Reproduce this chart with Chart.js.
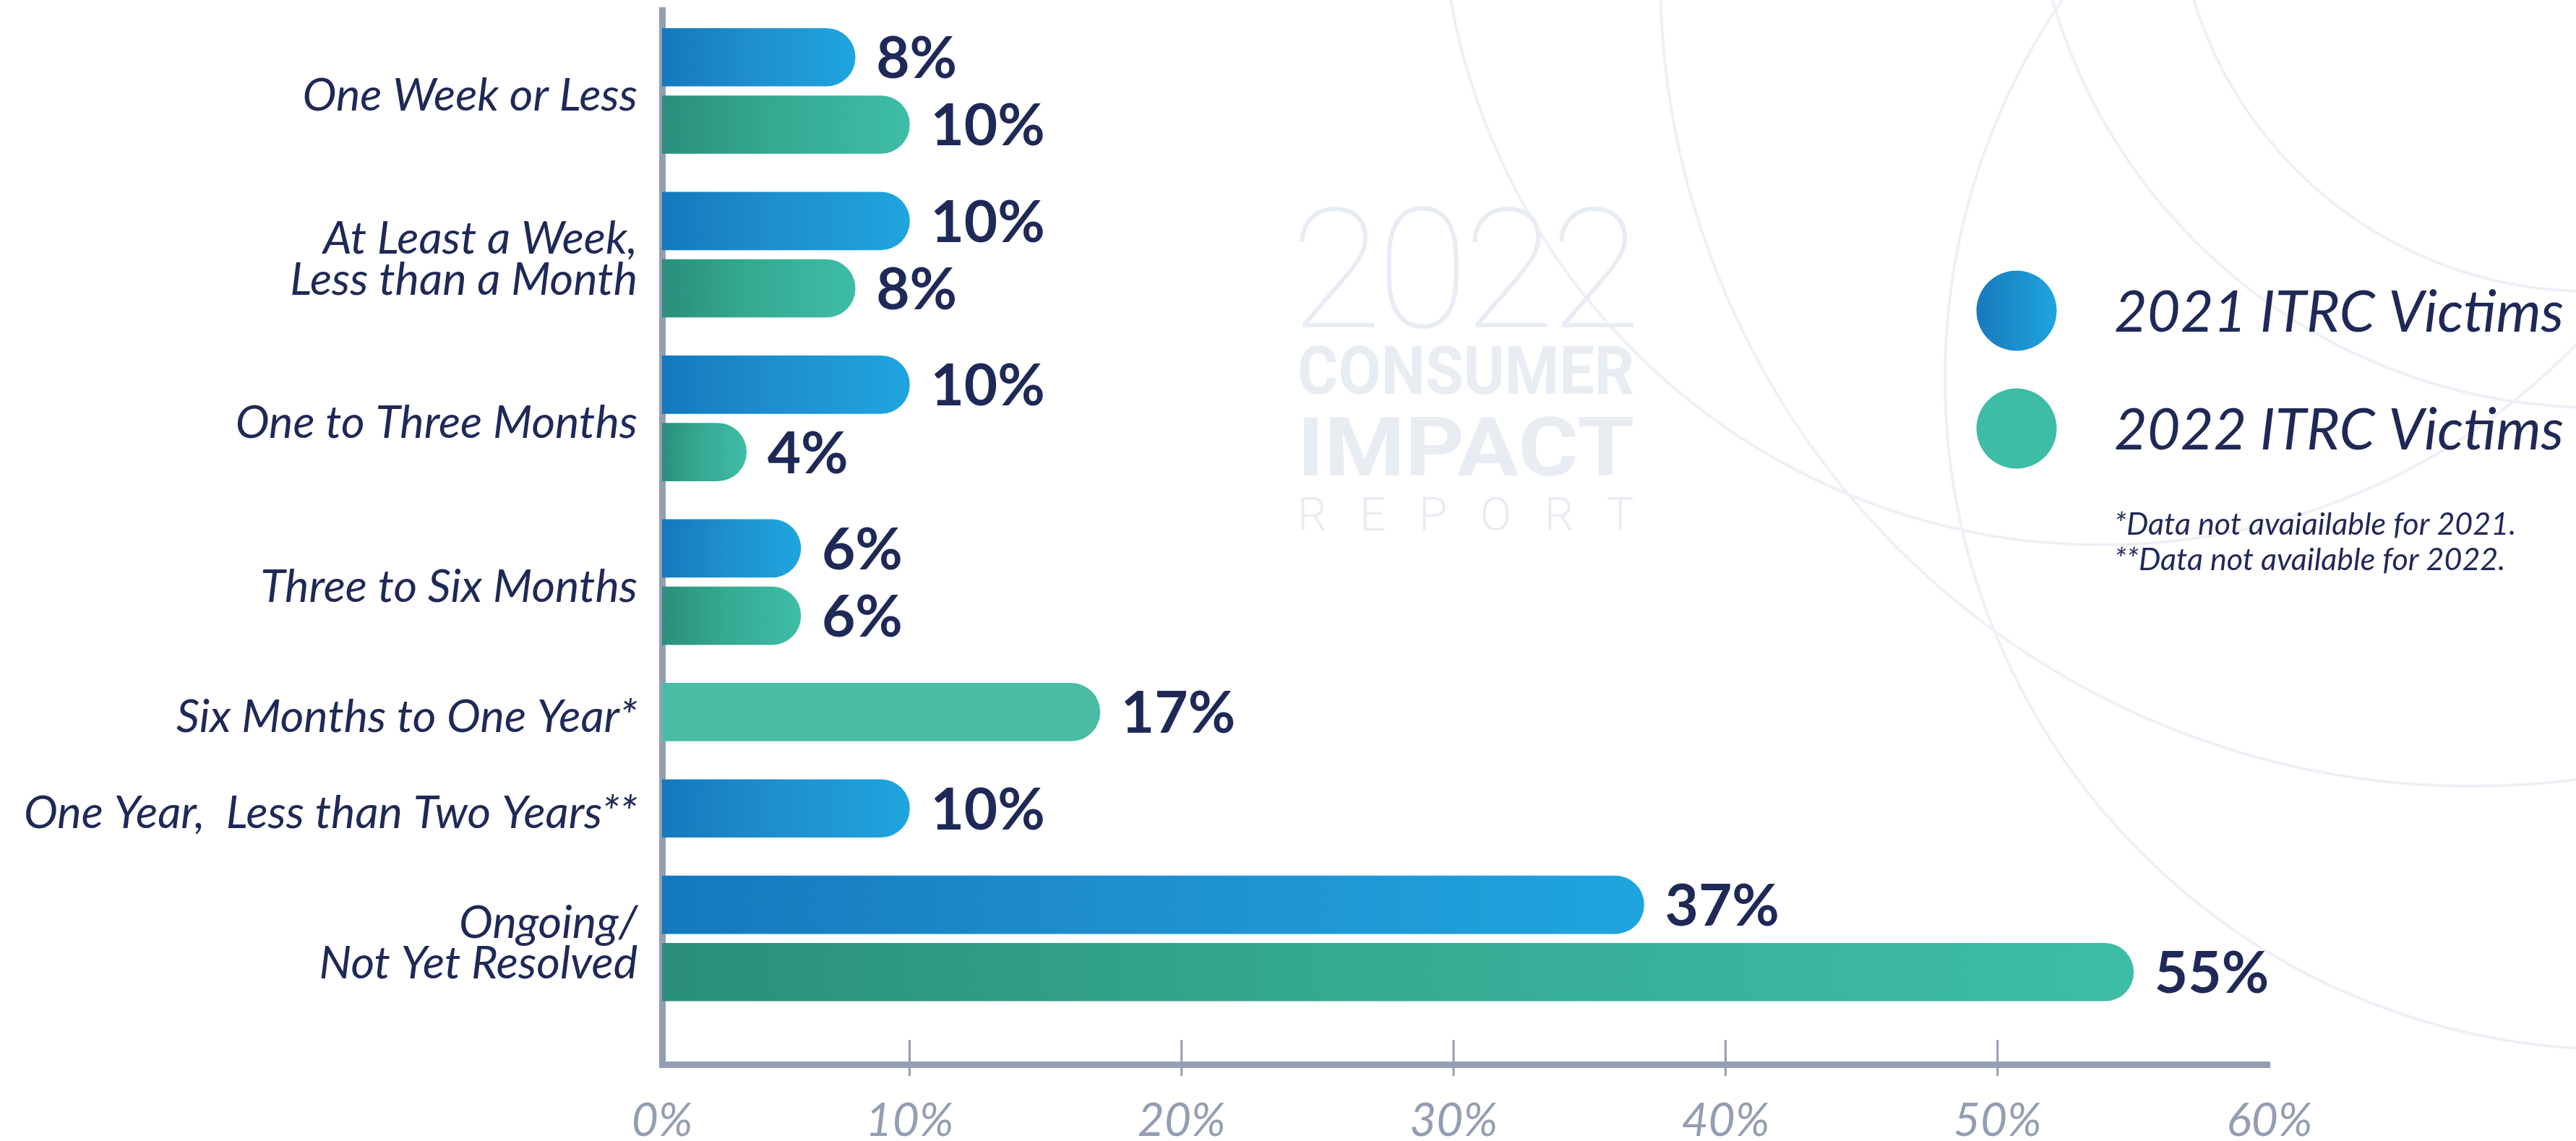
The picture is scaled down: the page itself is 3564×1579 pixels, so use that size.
<!DOCTYPE html>
<html>
<head>
<meta charset="utf-8">
<script src="https://cdn.jsdelivr.net/npm/chart.js@4.4.1/dist/chart.umd.min.js"></script>
<style>
  html, body { margin: 0; padding: 0; background: #fff; }
  #wrap { width: 3564px; height: 1579px; position: relative; }
</style>
</head>
<body>
<div id="wrap"><canvas id="chart"></canvas></div>
<script>
// chart data
const categories = [
  ['One Week or Less'],
  ['At Least a Week,', 'Less than a Month'],
  ['One to Three Months'],
  ['Three to Six Months'],
  ['Six Months to One Year*'],
  ['One Year,  Less than Two Years**'],
  ['Ongoing/', 'Not Yet Resolved'],
];
const seriesLabels = ['2021 ITRC Victims', '2022 ITRC Victims'];
const victims2021 = [8, 10, 10, 6, null, 10, 37];
const victims2022 = [10, 8, 4, 6, 17, null, 55];
const xTickValues = [0, 10, 20, 30, 40, 50, 60];
const footnotes = ['*Data not avaiailable for 2021.', '**Data not available for 2022.'];

const NAVY = '#1f2957';
const AXIS_COLOR = '#949eb2';
const FAINT = '#e8ecf3';
const GROUP_GAP = 1.43;   // spacing between groups, in bar steps
const AXIS_START = 0.9;   // the drawn axis sits a bit right of true zero in the original
const FLAT_ROWS = [4];    // the original paints this row's bar in a flat colour

// row positions: bars of one category sit one step apart, categories are further apart
const series = [victims2021, victims2022];
const rowPos = series.map(() => []);
const catCenters = [];
let pos = 0;
categories.forEach((c, i) => {
  if (i > 0) pos += GROUP_GAP;
  const used = [];
  series.forEach((s, d) => {
    if (s[i] == null) return;
    if (used.length) pos += 1;
    rowPos[d][i] = pos;
    used.push(pos);
  });
  catCenters.push(used.reduce((a, b) => a + b, 0) / used.length);
});

const gradients = [
  ['#1479bd', '#1f8ecd', '#1fa5de'],
  ['#2a8e7b', '#35a992', '#3ebda6'],
];
const flatColors = ['#1f9bd8', '#4abca6'];

function barFill(d) {
  return (ctx) => {
    const chart = ctx.chart;
    if (!chart.chartArea || !ctx.raw) return gradients[d][2];
    if (FLAT_ROWS.includes(ctx.raw.row)) return flatColors[d];
    const x = chart.scales.x;
    const x0 = x.getPixelForValue(x.min);
    const x1 = x.getPixelForValue(ctx.raw.x);
    const g = chart.ctx.createLinearGradient(x0, 0, x1, 0);
    g.addColorStop(0, gradients[d][0]);
    g.addColorStop(0.45, gradients[d][1]);
    g.addColorStop(1, gradients[d][2]);
    return g;
  };
}

// faint circles and report logo behind the chart
const backdrop = {
  id: 'backdrop',
  beforeDraw(chart) {
    const ctx = chart.ctx;
    ctx.save();
    ctx.fillStyle = '#fff';
    ctx.fillRect(0, 0, chart.width, chart.height);
    ctx.strokeStyle = '#eef0f6';
    ctx.lineWidth = 4;
    [[2908, -161, 915], [3420, -35, 1123], [3592, -220, 784], [3581, -168, 571], [3619, 524, 928]]
      .forEach(([cx, cy, r]) => {
        ctx.beginPath();
        ctx.arc(cx, cy, r, 0, Math.PI * 2);
        ctx.stroke();
      });

    ctx.fillStyle = FAINT;
    ctx.textBaseline = 'alphabetic';
    ctx.textAlign = 'left';
    const spread = (text, x0, x1, y, font) => {
      ctx.font = font;
      const chars = [...text];
      const ws = chars.map(ch => ctx.measureText(ch).width);
      const gap = (x1 - x0 - ws.reduce((a, b) => a + b, 0)) / (chars.length - 1);
      let x = x0;
      chars.forEach((ch, i) => { ctx.fillText(ch, x, y); x += ws[i] + gap; });
    };
    const fit = (text, x0, x1, y, font) => {
      ctx.font = font;
      const w = ctx.measureText(text).width;
      ctx.save();
      ctx.translate(x0, y);
      ctx.scale((x1 - x0) / w, 1);
      ctx.fillText(text, 0, 0);
      ctx.restore();
    };
    spread('2022', 1785, 2271, 453, '100 232px Roboto');
    fit('CONSUMER', 1795, 2261, 545, 'bold 92px Roboto');
    fit('IMPACT', 1795, 2261, 658, 'bold 114px Roboto');
    spread('REPORT', 1795, 2261, 734, '300 64px Roboto');
    ctx.restore();
  }
};

// percentage labels at the end of each bar
const valueLabels = {
  id: 'valueLabels',
  afterDatasetsDraw(chart) {
    const ctx = chart.ctx;
    ctx.save();
    ctx.fillStyle = NAVY;
    ctx.font = 'bold 80px Lato';
    ctx.textAlign = 'left';
    ctx.textBaseline = 'alphabetic';
    chart.data.datasets.forEach((ds, d) => {
      chart.getDatasetMeta(d).data.forEach((el, i) => {
        ctx.fillText(ds.data[i].x + '%', el.x + 29, el.y + 29);
      });
    });
    ctx.restore();
  }
};

// small tick marks crossing the x axis
const tickMarks = {
  id: 'tickMarks',
  afterDraw(chart) {
    const { ctx, chartArea } = chart;
    const x = chart.scales.x;
    ctx.save();
    ctx.strokeStyle = AXIS_COLOR;
    ctx.lineWidth = 3;
    xTickValues.slice(1, -1).forEach(v => {
      const px = x.getPixelForValue(v);
      ctx.beginPath();
      ctx.moveTo(px, chartArea.bottom - 34);
      ctx.lineTo(px, chartArea.bottom + 16);
      ctx.stroke();
    });
    ctx.restore();
  }
};

// legend with round markers plus the footnotes
const sideLegend = {
  id: 'sideLegend',
  afterDraw(chart) {
    const ctx = chart.ctx;
    ctx.save();
    const rows = [430, 593];
    chart.data.datasets.forEach((ds, d) => {
      const cy = rows[d];
      const g = ctx.createLinearGradient(2735, 0, 2846, 0);
      g.addColorStop(0, d === 0 ? '#1779bd' : '#3ebca5');
      g.addColorStop(1, d === 0 ? '#1fa5de' : '#3ebca5');
      ctx.fillStyle = g;
      ctx.beginPath();
      ctx.arc(2790, cy, 55.5, 0, Math.PI * 2);
      ctx.fill();
      ctx.fillStyle = NAVY;
      ctx.font = 'italic 79px Lato';
      ctx.textBaseline = 'alphabetic';
      ctx.fillText(ds.label, 2925, cy + 29);
    });
    ctx.font = 'italic 43px Lato';
    footnotes.forEach((t, i) => ctx.fillText(t, 2925, 740 + i * 49));
    ctx.restore();
  }
};

Chart.defaults.font.family = "Lato, 'Noto Sans', sans-serif";

new Chart(document.getElementById('chart'), {
  type: 'bar',
  data: {
    datasets: series.map((s, d) => ({
      label: seriesLabels[d],
      data: s.map((v, i) => v == null ? null : { x: v, y: rowPos[d][i], row: i }).filter(Boolean),
      backgroundColor: barFill(d),
      grouped: false,
      barThickness: 80,
      borderRadius: 40,
      borderSkipped: 'start',
    })),
  },
  options: {
    indexAxis: 'y',
    responsive: true,
    maintainAspectRatio: false,
    animation: false,
    devicePixelRatio: 1,
    layout: { padding: { top: 14, right: 424, left: 0, bottom: 0 } },
    plugins: { legend: { display: false }, tooltip: { enabled: false } },
    scales: {
      x: {
        type: 'linear',
        min: AXIS_START,
        max: 60,
        bounds: 'data',
        offset: false,
        grid: { display: false, drawTicks: false, offset: false },
        border: { display: true, color: AXIS_COLOR, width: 9 },
        afterBuildTicks: (s) => { s.ticks = xTickValues.map(v => ({ value: Math.max(v, AXIS_START) })); },
        afterFit: (s) => { s.height = 106; s.paddingLeft = 0; s.paddingRight = 0; },
        ticks: {
          autoSkip: false,
          maxRotation: 0,
          padding: 40,
          color: AXIS_COLOR,
          font: { size: 64, style: 'italic' },
          callback: (v, i) => xTickValues[i] + '%',
        },
      },
      y: {
        type: 'linear',
        reverse: true,
        min: -0.7,
        max: pos + 1.37,
        bounds: 'data',
        offset: false,
        z: 1,
        grid: { display: false, drawTicks: false, offset: false },
        border: { display: true, color: AXIS_COLOR, width: 9 },
        afterBuildTicks: (s) => { s.ticks = catCenters.map(v => ({ value: v })); },
        afterFit: (s) => { s.width = 916; s.paddingTop = 0; s.paddingBottom = 0; },
        ticks: {
          autoSkip: false,
          padding: 34,
          labelOffset: 7,
          color: NAVY,
          font: { size: 63, style: 'italic', lineHeight: 0.9 },
          callback: (v, i) => categories[i],
        },
      },
    },
  },
  plugins: [backdrop, valueLabels, tickMarks, sideLegend],
});
</script>
</body>
</html>
